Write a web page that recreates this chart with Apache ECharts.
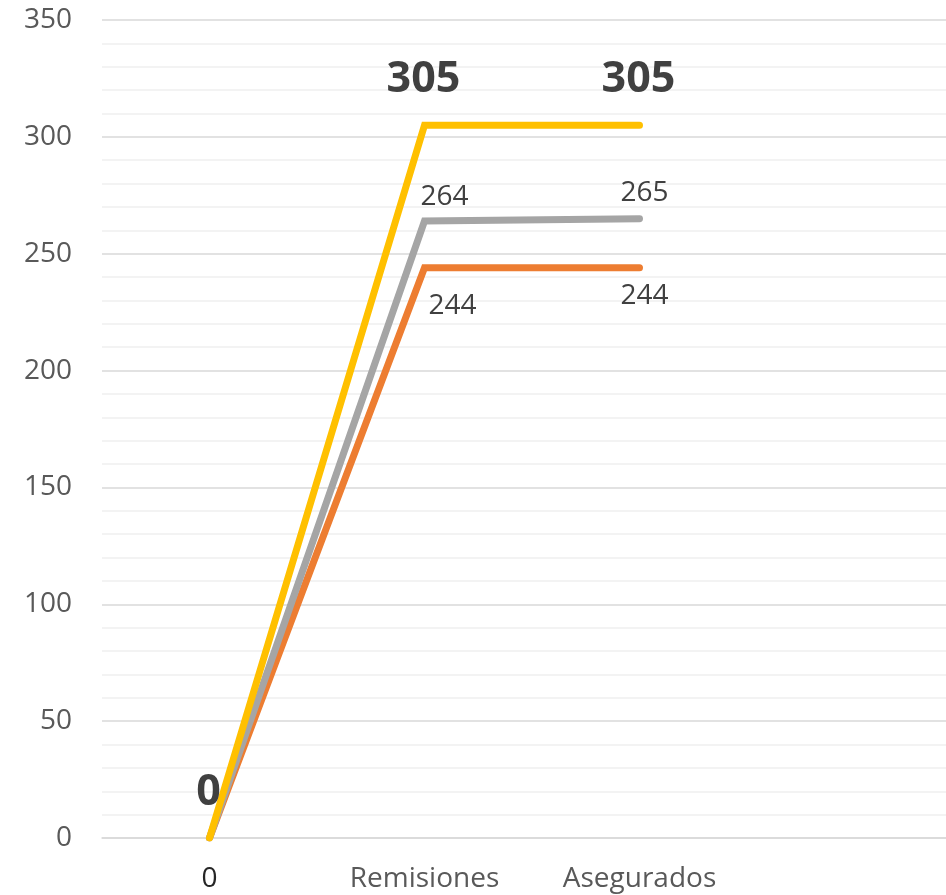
<!DOCTYPE html>
<html><head><meta charset="utf-8">
<script src="https://cdn.jsdelivr.net/npm/echarts@6/dist/echarts.min.js"></script>
<style>html,body{margin:0;padding:0;background:#fff;overflow:hidden}#c{width:962px;height:895px}</style>
</head><body><div id="c"></div>
<script>
const categories = ['0', 'Remisiones', 'Asegurados', ''];
const yellowValues = [0, 305, 305];
const greyValues = [0, 264, 265];
const orangeValues = [0, 244, 244];
const yTicks = [0, 50, 100, 150, 200, 250, 300, 350];

const FONT = '"Open Sans", sans-serif';
const chart = echarts.init(document.getElementById('c'), null, {renderer: 'canvas'});

function lbl(offset, show) {
  return {show: show, position: 'inside', align: 'center', verticalAlign: 'middle',
          offset: offset, fontFamily: FONT, fontSize: 28, color: '#404040'};
}

chart.setOption({
  animation: false,
  grid: {left: 102, right: 0, top: 20, bottom: 57, containLabel: false},
  xAxis: {
    type: 'category', data: categories, boundaryGap: true,
    axisLine: {show: true, lineStyle: {color: '#d9d9d9', width: 1.5}},
    axisTick: {show: false},
    axisLabel: {
      margin: 27, fontFamily: FONT, fontSize: 28, color: '#595959', interval: 0,
      formatter: function (v, i) { return i === 0 ? '{z|' + v + '}' : v; },
      rich: {z: {fontFamily: FONT, fontSize: 28, color: '#262626'}}
    }
  },
  yAxis: {
    type: 'value', min: yTicks[0], max: yTicks[yTicks.length - 1], interval: 50,
    axisLine: {show: false}, axisTick: {show: false},
    axisLabel: {margin: 30, fontFamily: FONT, fontSize: 28, color: '#595959'},
    splitLine: {show: true, lineStyle: {color: '#d9d9d9', width: 1.5}},
    minorTick: {show: false, splitNumber: 5},
    minorSplitLine: {show: true, lineStyle: {color: '#f0f0f0', width: 1.5}}
  },
  series: [
    {
      type: 'line', data: orangeValues.map((v, i) => ({value: v,
        label: i === 0 ? {show: false} : lbl(i === 1 ? [28, 38] : [5, 28], true)})),
      symbol: 'circle', symbolSize: 1, showSymbol: true,
      itemStyle: {color: '#ED7D31'},
      lineStyle: {color: '#ED7D31', width: 7, cap: 'round', join: 'miter'},
      z: 2
    },
    {
      type: 'line', data: greyValues.map((v, i) => ({value: v,
        label: i === 0 ? {show: false} : lbl(i === 1 ? [20, -24] : [5, -26], true)})),
      symbol: 'circle', symbolSize: 1, showSymbol: true,
      itemStyle: {color: '#A5A5A5'},
      lineStyle: {color: '#A5A5A5', width: 7, cap: 'round', join: 'miter'},
      z: 3
    },
    {
      type: 'line', data: yellowValues.map((v) => ({value: v})),
      symbol: 'circle', symbolSize: 1, showSymbol: true,
      itemStyle: {color: '#FFC000'},
      lineStyle: {color: '#FFC000', width: 7, cap: 'round', join: 'miter'},
      label: {show: true, position: 'inside', align: 'center', verticalAlign: 'middle',
              offset: [-1, -45], fontFamily: FONT, fontSize: 43, fontWeight: 'bold', color: '#404040'},
      z: 4
    }
  ]
});
</script></body></html>
